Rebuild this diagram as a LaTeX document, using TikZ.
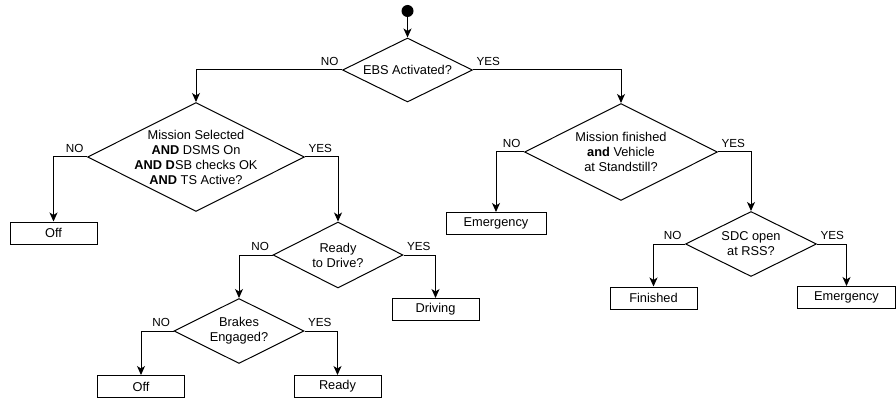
\documentclass[tikz,border=0pt]{standalone}
\usepackage{fontspec}
\setmainfont{Liberation Sans}
\usetikzlibrary{shapes.geometric,arrows.meta,positioning}

\tikzset{every picture/.style={line width=1pt}}
\tikzset{
  decision/.style={diamond, draw, inner sep=0pt,
    label={[align=center, font=\fontsize{12.8}{15}\selectfont]center:#1}},
  statebox/.style={rectangle, draw, inner sep=0pt, minimum width=87, minimum height=22,
    font=\fontsize{12.8}{15}\selectfont},
  startdot/.style={circle, fill=black, inner sep=0pt, minimum size=12},
  flow/.style={-{Stealth[length=9pt,width=8pt,inset=2.5pt]}},
  answer/.style={inner sep=0pt, font=\fontsize{11.7}{13}\selectfont},
}

\begin{document}
\begin{tikzpicture}[x=1pt,y=1pt,yscale=-1,xscale=1]
        \useasboundingbox (0,0) rectangle (896,398);

        %Shape: Start
        \node[startdot] (start) at (407.5,11) {};

        %Shape: Diamond
        \node[decision={EBS Activated?}, minimum width=130, minimum height=64] (ebs) at (407.5,70) {};
        %Shape: Diamond
        \node[decision={Mission Selected\\\textbf{AND} DSMS On\\\textbf{AND D}SB checks OK\\\textbf{AND} TS Active?},
          minimum width=217, minimum height=109] (missionsel) at (196,157) {};
        %Shape: Diamond
        \node[decision={Mission finished\\\textbf{and} Vehicle\\at Standstill?},
          minimum width=193, minimum height=97] (missionfin) at (621,152) {};
        %Shape: Diamond
        \node[decision={Ready\\to Drive?}, minimum width=130, minimum height=66] (readydrive) at (338,255) {};
        %Shape: Diamond
        \node[decision={Brakes\\Engaged?}, minimum width=130, minimum height=65] (brakes) at (239,331) {};
        %Shape: Diamond
        \node[decision={SDC open\\at RSS?}, minimum width=131, minimum height=65] (sdc) at (751,244) {};

        %Shape: Rectangle
        \node[statebox] (offa) at (53.5,233) {Off};
        \node[statebox, minimum width=100] (emerga) at (496,223.5) {Emergency};
        \node[statebox] (driving) at (435.5,309.5) {Driving};
        \node[statebox] (offb) at (141,386.5) {Off};
        \node[statebox] (readystate) at (337.5,386.5) {Ready};
        \node[statebox] (finishedstate) at (653.5,298) {Finished};
        \node[statebox, minimum width=98] (emergb) at (846.5,297.5) {Emergency};

        %Straight Lines
        \draw[flow] (start) -- (ebs);
        \draw[flow] (ebs.west) -| (missionsel.north);
        \draw[flow] (ebs.east) -| (missionfin.north);
        \draw[flow] (missionsel.west) -| (offa.north);
        \draw[flow] (missionsel.east) -| (readydrive.north);
        \draw[flow] (readydrive.west) -| (brakes.north);
        \draw[flow] (readydrive.east) -| (driving.north);
        \draw[flow] (brakes.west) -| (offb.north);
        \draw[flow] (brakes.east) -| (readystate.north);
        \draw[flow] (missionfin.west) -| (emerga.north);
        \draw[flow] (missionfin.east) -| (sdc.north);
        \draw[flow] (sdc.west) -| (finishedstate.north);
        \draw[flow] (sdc.east) -| (emergb.north);

        % Text Node
        \node[answer, above left=4pt and 3pt of ebs.west] (ebsno) {NO};
        \node[answer, above right=4pt and 3pt of ebs.east] (ebsyes) {YES};
        \node[answer, above left=4pt and 3pt of missionsel.west] (selno) {NO};
        \node[answer, above right=4pt and 3pt of missionsel.east] (selyes) {YES};
        \node[answer, above left=4pt and 3pt of missionfin.west] (finno) {NO};
        \node[answer, above right=4pt and 3pt of missionfin.east] (finyes) {YES};
        \node[answer, above left=4pt and 3pt of readydrive.west] (driveno) {NO};
        \node[answer, above right=4pt and 3pt of readydrive.east] (driveyes) {YES};
        \node[answer, above left=4pt and 3pt of brakes.west] (brakesno) {NO};
        \node[answer, above right=4pt and 3pt of brakes.east] (brakesyes) {YES};
        \node[answer, above left=4pt and 3pt of sdc.west] (sdcno) {NO};
        \node[answer, above right=4pt and 3pt of sdc.east] (sdcyes) {YES};

\end{tikzpicture}
\end{document}
